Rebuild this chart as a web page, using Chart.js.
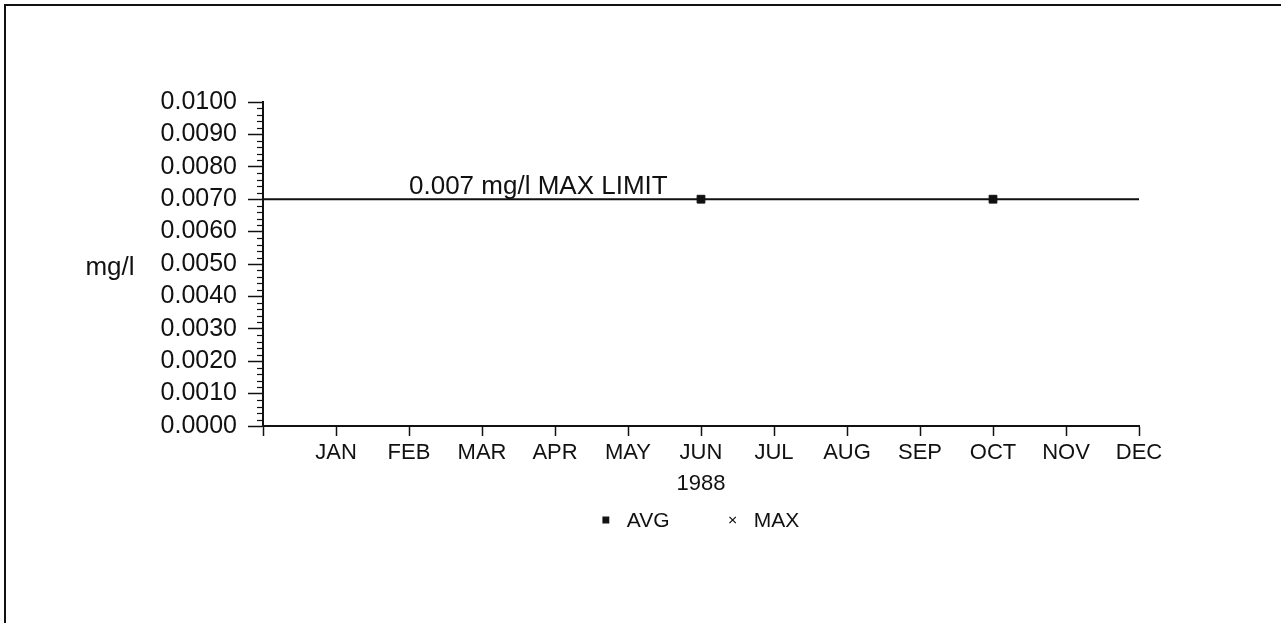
<!DOCTYPE html>
<html>
<head>
<meta charset="utf-8">
<script src="https://cdn.jsdelivr.net/npm/chart.js@4.4.1/dist/chart.umd.min.js"></script>
<style>
  html, body { margin: 0; padding: 0; background: #fff; }
  body { width: 1281px; height: 623px; position: relative; overflow: hidden; }
  .frame { position: absolute; left: 4px; top: 4px; width: 1300px; height: 640px;
           border-left: 2px solid #111; border-top: 2px solid #111; }
  .chart-container { position: absolute; left: 0; top: 0; width: 1281px; height: 560px; }
</style>
</head>
<body>
<div class="frame"></div>
<div class="chart-container"><canvas id="myChart"></canvas></div>
<script>
// Chart data
const months = ['JAN', 'FEB', 'MAR', 'APR', 'MAY', 'JUN', 'JUL', 'AUG', 'SEP', 'OCT', 'NOV', 'DEC'];
const avgValues = [null, null, null, null, null, 0.007, null, null, null, 0.007, null, null];
const maxValues = [null, null, null, null, null, 0.007, null, null, null, 0.007, null, null];
const limitValue = 0.007;
const limitLabel = '0.007 mg/l MAX LIMIT';
const yearLabel = '1988';
const yUnit = 'mg/l';

const INK = '#111';
const FONT = "'Liberation Sans', Arial, Helvetica, sans-serif";

const toPoints = (values) => values
  .map((v, i) => (v === null ? null : { x: i + 1, y: v }))
  .filter(p => p !== null);

// Minor ticks on the y axis, limit label, unit label and legend
const extrasPlugin = {
  id: 'extras',
  afterDraw(chart) {
    const { ctx, scales: { x, y } } = chart;
    ctx.save();
    ctx.strokeStyle = INK;
    ctx.lineWidth = 1.2;
    for (let i = 0; i <= 50; i++) {
      if (i % 5 === 0) continue;
      const py = Math.round(y.getPixelForValue(i * 0.0002)) + 0.5;
      ctx.beginPath();
      ctx.moveTo(x.left - 6, py);
      ctx.lineTo(x.left, py);
      ctx.stroke();
    }

    ctx.fillStyle = INK;
    ctx.font = `26px ${FONT}`;
    ctx.textAlign = 'left';
    ctx.textBaseline = 'alphabetic';
    ctx.fillText(limitLabel, x.getPixelForValue(2), y.getPixelForValue(limitValue) - 5);

    ctx.font = `26px ${FONT}`;
    ctx.textAlign = 'center';
    ctx.textBaseline = 'middle';
    ctx.fillText(yUnit, 110, y.getPixelForValue(0.005) + 4);

    // Legend under the year title
    const items = chart.data.datasets.filter(ds => ds.label !== 'LIMIT');
    ctx.font = `21px ${FONT}`;
    ctx.textAlign = 'left';
    const markerGap = 18;
    const itemGap = 60;
    const widths = items.map(ds => 6 + markerGap + ctx.measureText(ds.label).width);
    const total = widths.reduce((a, b) => a + b, 0) + itemGap * (items.length - 1);
    let lx = (x.left + x.right) / 2 - total / 2;
    const ly = 520;
    items.forEach((ds, i) => {
      Chart.helpers.drawPoint(ctx, {
        pointStyle: ds.pointStyle,
        radius: ds.pointStyle === 'rect' ? 4 : 4.5,
        borderWidth: ds.pointStyle === 'rect' ? 1 : 2
      }, lx + 3, ly);
      ctx.fillText(ds.label, lx + 6 + markerGap, ly + 1);
      lx += widths[i] + itemGap;
    });
    ctx.restore();
  }
};

let myChart;
const initChart = () => {
  const ctx = document.getElementById('myChart').getContext('2d');

  return new Chart(ctx, {
    type: 'scatter',
    data: {
      datasets: [
        {
          label: 'LIMIT',
          data: [{ x: 0, y: limitValue }, { x: 12, y: limitValue }],
          showLine: true,
          borderColor: INK,
          backgroundColor: INK,
          borderWidth: 2,
          pointRadius: 0
        },
        {
          label: 'AVG',
          data: toPoints(avgValues),
          pointStyle: 'rect',
          pointRadius: 5.5,
          borderColor: INK,
          backgroundColor: INK,
          borderWidth: 1
        },
        {
          label: 'MAX',
          data: toPoints(maxValues),
          pointStyle: 'crossRot',
          pointRadius: 3,
          borderColor: INK,
          backgroundColor: INK,
          borderWidth: 1.5
        }
      ]
    },
    options: {
      responsive: true,
      maintainAspectRatio: false,
      animation: false,
      layout: {
        padding: { left: 100, right: 142, top: 102, bottom: 60 }
      },
      plugins: {
        tooltip: { enabled: false },
        legend: { display: false }
      },
      scales: {
        x: {
          type: 'linear',
          min: 0,
          max: 12,
          afterFit: (scale) => { scale.height = 74; },
          ticks: {
            stepSize: 1,
            color: INK,
            padding: 4,
            maxRotation: 0,
            autoSkip: false,
            font: { size: 22, family: FONT },
            callback: (v) => months[v - 1] || ''
          },
          grid: {
            drawOnChartArea: false,
            drawTicks: true,
            tickLength: 10,
            tickWidth: 1.5,
            tickColor: INK
          },
          border: { display: true, color: INK, width: 2 },
          title: {
            display: true,
            text: yearLabel,
            color: INK,
            font: { size: 22, family: FONT },
            padding: { top: 0, bottom: 3 }
          }
        },
        y: {
          min: 0,
          max: 0.01,
          afterFit: (scale) => { scale.width = 163; },
          ticks: {
            stepSize: 0.001,
            autoSkip: false,
            color: INK,
            padding: 11,
            font: { size: 25, family: FONT, lineHeight: 1 },
            callback: (v) => v.toFixed(4)
          },
          grid: {
            drawOnChartArea: false,
            drawTicks: true,
            tickLength: 15,
            tickWidth: 1.5,
            tickColor: INK
          },
          border: { display: true, color: INK, width: 2 }
        }
      }
    },
    plugins: [extrasPlugin]
  });
};

myChart = initChart();
</script>
</body>
</html>
